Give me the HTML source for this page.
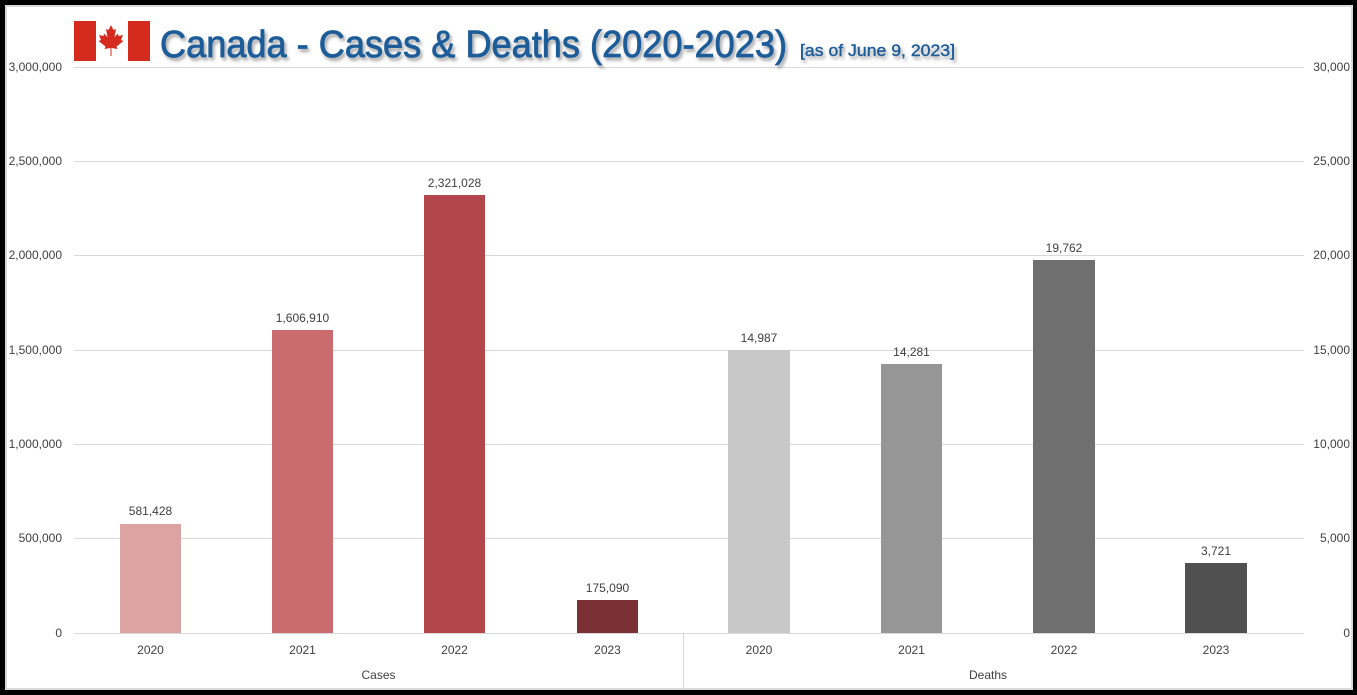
<!DOCTYPE html>
<html><head><meta charset="utf-8"><style>
html,body{margin:0;padding:0;background:#000;}
svg{display:block;}
</style></head><body>
<svg width="1357" height="695" viewBox="0 0 1357 695" xmlns="http://www.w3.org/2000/svg">
<defs>
<filter id="sh" x="-5%" y="-20%" width="110%" height="150%">
<feDropShadow dx="2" dy="3" stdDeviation="1.6" flood-color="#000" flood-opacity="0.35"/>
</filter>
</defs>
<rect x="0" y="0" width="1357" height="695" fill="#000"/>
<rect x="5" y="5" width="1348" height="685" fill="#d9d9d9"/>
<rect x="7" y="7" width="1344" height="681" fill="#fff"/>

<!-- gridlines -->
<g stroke="#d9d9d9" stroke-width="1">
<line x1="74" y1="67.5" x2="1304" y2="67.5"/>
<line x1="74" y1="161.5" x2="1304" y2="161.5"/>
<line x1="74" y1="255.5" x2="1304" y2="255.5"/>
<line x1="74" y1="350.5" x2="1304" y2="350.5"/>
<line x1="74" y1="444.5" x2="1304" y2="444.5"/>
<line x1="74" y1="538.5" x2="1304" y2="538.5"/>
<line x1="74" y1="633.5" x2="1304" y2="633.5"/>
<line x1="683.5" y1="633" x2="683.5" y2="688"/>
</g>

<!-- left axis labels -->
<g font-family="Liberation Sans, sans-serif" font-size="12" fill="#404040" text-anchor="end">
<text x="62" y="71">3,000,000</text>
<text x="62" y="165">2,500,000</text>
<text x="62" y="259">2,000,000</text>
<text x="62" y="354">1,500,000</text>
<text x="62" y="448">1,000,000</text>
<text x="62" y="542">500,000</text>
<text x="62" y="637">0</text>
</g>
<!-- right axis labels -->
<g font-family="Liberation Sans, sans-serif" font-size="12" fill="#404040" text-anchor="end">
<text x="1350" y="71">30,000</text>
<text x="1350" y="165">25,000</text>
<text x="1350" y="259">20,000</text>
<text x="1350" y="354">15,000</text>
<text x="1350" y="448">10,000</text>
<text x="1350" y="542">5,000</text>
<text x="1350" y="637">0</text>
</g>

<!-- bars -->
<rect x="120" y="524" width="61" height="109" fill="#dda3a3"/>
<rect x="272" y="330" width="61" height="303" fill="#c96b6f"/>
<rect x="424" y="195" width="61" height="438" fill="#b2464a"/>
<rect x="577" y="600" width="61" height="33" fill="#7a3035"/>
<rect x="728" y="350" width="62" height="283" fill="#c8c8c8"/>
<rect x="881" y="364" width="61" height="269" fill="#969696"/>
<rect x="1033" y="260" width="62" height="373" fill="#6f6f6f"/>
<rect x="1185" y="563" width="62" height="70" fill="#505050"/>

<!-- data labels -->
<g font-family="Liberation Sans, sans-serif" font-size="12" fill="#404040" text-anchor="middle">
<text x="150.5" y="515">581,428</text>
<text x="302.5" y="322">1,606,910</text>
<text x="454.5" y="187">2,321,028</text>
<text x="607.5" y="592">175,090</text>
<text x="759" y="342">14,987</text>
<text x="911.5" y="356">14,281</text>
<text x="1064" y="252">19,762</text>
<text x="1216" y="555">3,721</text>
</g>

<!-- category labels -->
<g font-family="Liberation Sans, sans-serif" font-size="12" fill="#404040" text-anchor="middle">
<text x="150.5" y="654">2020</text>
<text x="302.5" y="654">2021</text>
<text x="454.5" y="654">2022</text>
<text x="607.5" y="654">2023</text>
<text x="759" y="654">2020</text>
<text x="911.5" y="654">2021</text>
<text x="1064" y="654">2022</text>
<text x="1216" y="654">2023</text>
<text x="378.5" y="679">Cases</text>
<text x="988" y="679">Deaths</text>
</g>

<!-- flag -->
<rect x="74" y="21" width="76" height="40" fill="#fff"/>
<rect x="74" y="21" width="22" height="40" fill="#d52b1e"/>
<rect x="128" y="21" width="22" height="40" fill="#d52b1e"/>
<path fill="#d52b1e" d="M111,25 L108.5,30 L106,29 L107.5,37 L104,33.5 L103.5,36 L99,35 L101,40 L98.5,41 L105.5,46.5 L104.5,49 L110.5,48 L110.5,56 L111.5,56 L111.5,48 L117.5,49 L116.5,46.5 L123.5,41 L121,40 L123,35 L118.5,36 L118,33.5 L114.5,37 L116,29 L113.5,30 Z"/>

<!-- title -->
<g filter="url(#sh)" fill="#1f5c99" stroke="#1f5c99" font-family="Liberation Sans, sans-serif">
<text x="160" y="57" font-size="38" stroke-width="0.8" textLength="627" lengthAdjust="spacingAndGlyphs">Canada - Cases &amp; Deaths (2020-2023)</text>
<text x="800" y="56" font-size="17" stroke-width="0.4" textLength="155" lengthAdjust="spacingAndGlyphs">[as of June 9, 2023]</text>
</g>
</svg>
</body></html>
